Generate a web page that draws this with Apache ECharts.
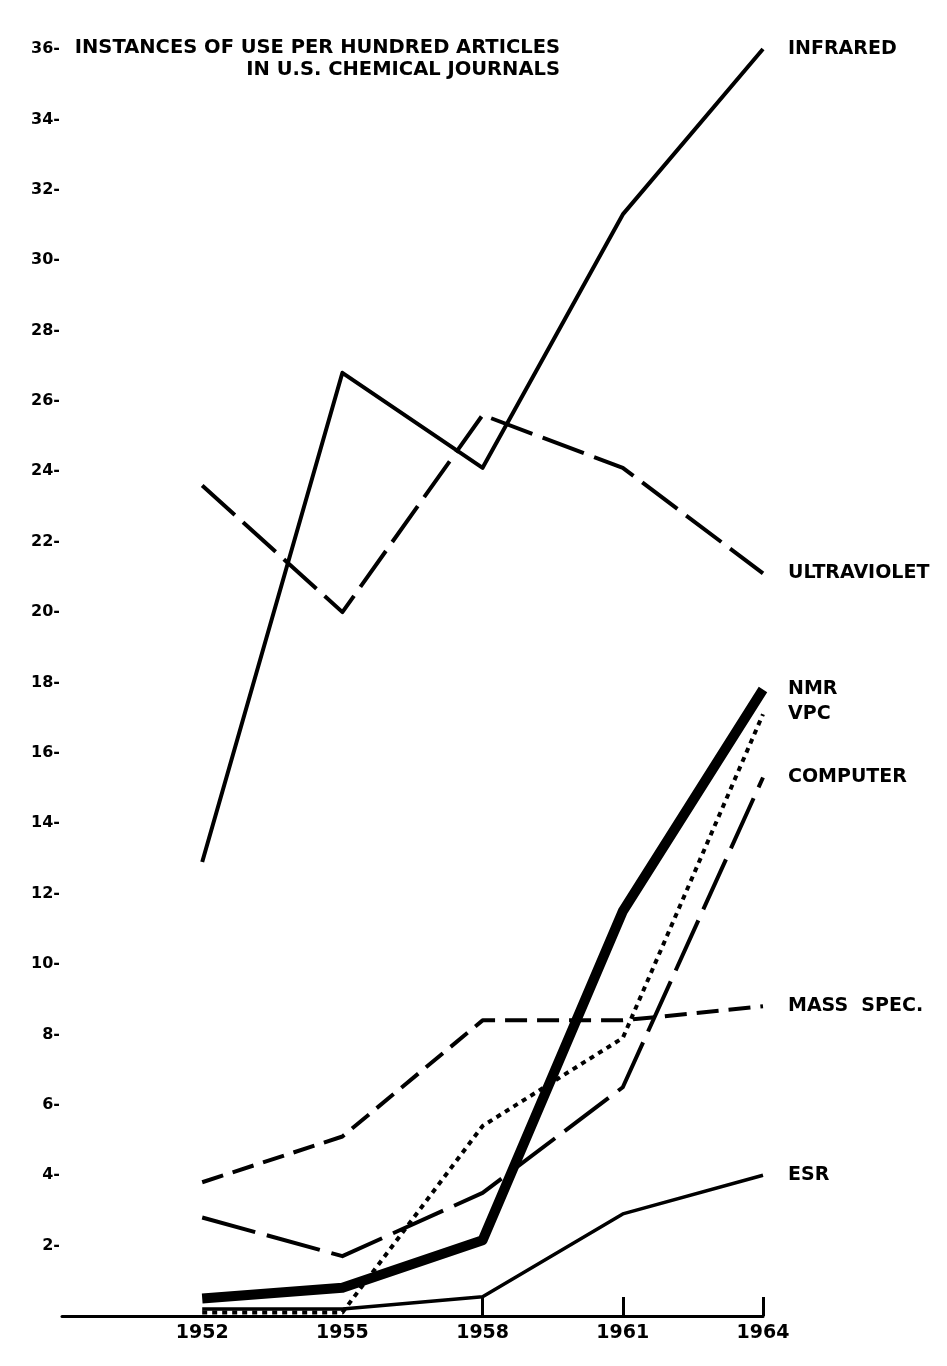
<!DOCTYPE html>
<html>
<head>
<meta charset="utf-8">
<script src="https://cdn.jsdelivr.net/npm/echarts@6/dist/echarts.min.js"></script>
<style>
    html, body { margin: 0; padding: 0; background: #fff; }
    #chart { width: 947px; height: 1366px; }
</style>
</head>
<body>
<div id="chart"></div>
<script>
// Data
const years = ['1952', '1955', '1958', '1961', '1964'];
const infrared = [12.9, 26.8, 24.1, 31.3, 36.0];
const ultraviolet = [23.6, 20.0, 25.6, 24.1, 21.1];
const nmr = [0.5, 0.8, 2.15, 11.5, 17.8];
const vpc = [0.1, 0.1, 5.4, 7.9, 17.1];
const computer = [2.8, 1.7, 3.5, 6.5, 15.3];
const massSpec = [3.8, 5.1, 8.4, 8.4, 8.8];
const esr = [0.2, 0.2, 0.55, 2.9, 4.0];
const titleLines = ['INSTANCES OF USE PER HUNDRED ARTICLES', 'IN U.S. CHEMICAL JOURNALS'];

const FONT = '"DejaVu Sans", "Liberation Sans", sans-serif';

function line(name, values, width, dash) {
    return {
        name: name,
        type: 'line',
        data: years.map((y, i) => [y, values[i]]),
        symbol: 'none',
        lineStyle: { color: '#000', width: width, type: dash || 'solid', cap: 'butt', join: 'round' },
        endLabel: {
            show: true,
            formatter: name,
            distance: 25,
            color: '#000',
            fontFamily: FONT,
            fontWeight: 'bold',
            fontSize: 19
        },
        emphasis: { disabled: true },
        animation: false
    };
}

const chart = echarts.init(document.getElementById('chart'));
chart.setOption({
    backgroundColor: '#fff',
    animation: false,
    grid: { left: 62, right: 184, top: 49, bottom: 50, containLabel: false },
    xAxis: {
        type: 'category',
        data: [''].concat(years),
        boundaryGap: false,
        axisLine: { lineStyle: { color: '#000', width: 3 } },
        axisTick: {
            inside: true,
            length: 19,
            interval: (idx) => idx >= 3,
            lineStyle: { color: '#000', width: 3 }
        },
        axisLabel: {
            color: '#000',
            fontFamily: FONT,
            fontWeight: 'bold',
            fontSize: 19,
            margin: 8
        },
        splitLine: { show: false }
    },
    yAxis: {
        type: 'value',
        min: 0,
        max: 36,
        interval: 2,
        axisLine: { show: false },
        axisTick: { show: false },
        splitLine: { show: false },
        axisLabel: {
            color: '#000',
            fontFamily: FONT,
            fontWeight: 'bold',
            fontSize: 16,
            margin: 2,
            formatter: (v) => v === 0 ? '' : v + '-'
        }
    },
    graphic: [{
        type: 'text',
        x: 560,
        y: 37,
        style: {
            text: titleLines.join('\n'),
            align: 'right',
            fill: '#000',
            font: 'bold 19.5px ' + FONT,
            lineHeight: 22
        }
    }],
    series: [
        line('INFRARED', infrared, 4),
        line('ULTRAVIOLET', ultraviolet, 4, [44, 11]),
        line('NMR', nmr, 10),
        line('VPC', vpc, 4, [5, 5]),
        line('COMPUTER', computer, 4, [55, 12]),
        line('MASS  SPEC.', massSpec, 4, [22, 10]),
        line('ESR', esr, 3.5)
    ]
});
</script>
</body>
</html>
